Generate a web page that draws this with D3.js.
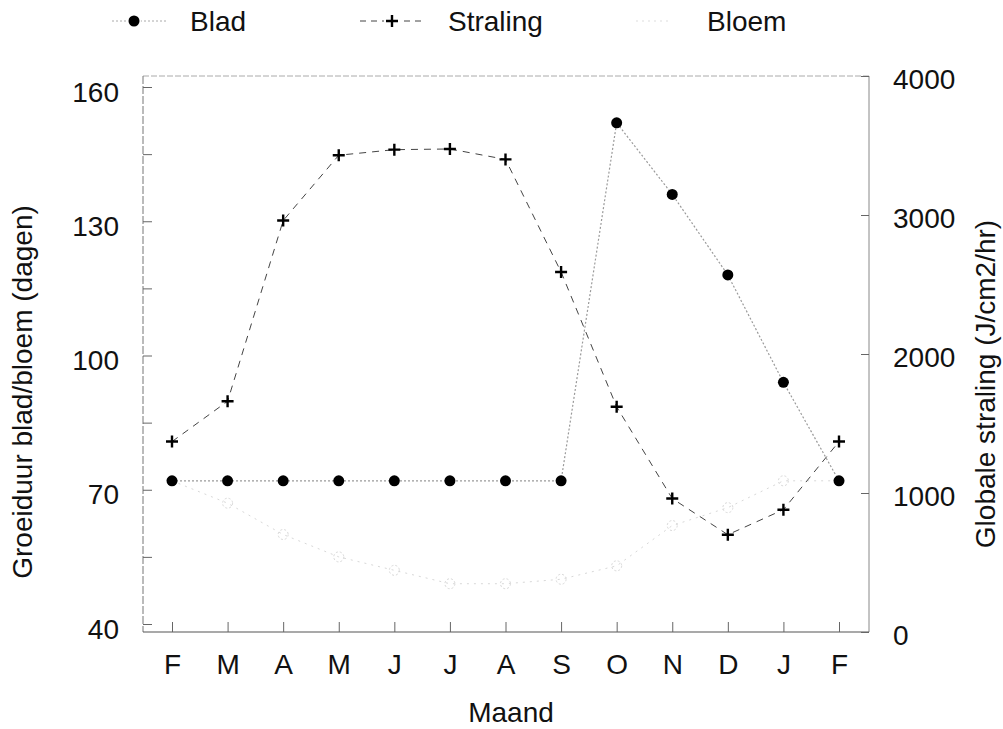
<!DOCTYPE html>
<html>
<head>
<meta charset="utf-8">
<script src="https://cdn.jsdelivr.net/npm/d3@7"></script>
<style>
  body { margin: 0; background: #fff; }
  svg text { font-family: "Liberation Sans", Arial, sans-serif; fill: #111; }
</style>
</head>
<body>
<div id="chart"></div>
<script>
// month labels, Feb to Feb
const months = ["F", "M", "A", "M", "J", "J", "A", "S", "O", "N", "D", "J", "F"];
// growth duration leaf (days)
const blad = [72, 72, 72, 72, 72, 72, 72, 72, 152, 136, 118, 94, 72];
// global radiation (J/cm2/hr)
const straling = [1370, 1660, 2960, 3430, 3470, 3475, 3400, 2590, 1620, 960, 700, 880, 1370];
// growth duration flower (days)
const bloem = [72, 67, 60, 55, 52, 49, 49, 50, 53, 62, 66, 72, 72];

const leftTicks = [40, 55, 70, 85, 100, 115, 130, 145, 160];
const rightTicks = [0, 1000, 2000, 3000, 4000];

const width = 1003, height = 729;
const plot = { left: 143, right: 869, top: 76, bottom: 632 };
const fontSize = 28;

let svg = d3.select("#chart")
    .append("svg")
    .attr("width", width)
    .attr("height", height);

// scales
let x = d3.scalePoint()
    .domain(d3.range(months.length))
    .range([172, 839]);

let yLeft = d3.scaleLinear()
    .domain([40, 160])
    .range([624, 87]);

let yRight = d3.scaleLinear()
    .domain([0, 4000])
    .range([632, 76]);

// frame
svg.append("line").attr("x1", plot.left).attr("x2", plot.right).attr("y1", plot.top).attr("y2", plot.top)
    .attr("stroke", "#aaa").attr("stroke-dasharray", "6,2");
svg.append("line").attr("x1", plot.right).attr("x2", plot.right).attr("y1", plot.top).attr("y2", plot.bottom)
    .attr("stroke", "#888");
svg.append("line").attr("x1", plot.left).attr("x2", plot.left).attr("y1", plot.top).attr("y2", plot.bottom)
    .attr("stroke", "#777").attr("stroke-dasharray", "8,2");
svg.append("line").attr("x1", plot.left).attr("x2", plot.right).attr("y1", plot.bottom).attr("y2", plot.bottom)
    .attr("stroke", "#555").attr("stroke-width", 1.2);

// x axis
let xAxis = svg.append("g")
    .attr("transform", `translate(0, ${plot.bottom})`)
    .call(d3.axisBottom(x).tickSize(-10).tickPadding(22).tickFormat(i => months[i]));
xAxis.select(".domain").remove();
xAxis.selectAll("line").attr("stroke", "#666");
xAxis.selectAll("text").style("font-size", fontSize + "px").attr("fill", "#111");

// left axis
let leftAxis = svg.append("g")
    .attr("transform", `translate(${plot.left}, 0)`)
    .call(d3.axisLeft(yLeft).tickValues(leftTicks).tickSize(-9).tickPadding(24)
        .tickFormat(d => (d - 40) % 30 === 0 ? d : ""));
leftAxis.select(".domain").remove();
leftAxis.selectAll("line").attr("stroke", "#666");
leftAxis.selectAll("text").style("font-size", fontSize + "px").attr("dy", "0.5em").attr("fill", "#111");

// right axis
let rightAxis = svg.append("g")
    .attr("transform", `translate(${plot.right}, 0)`)
    .call(d3.axisRight(yRight).tickValues(rightTicks).tickSize(-8).tickPadding(24).tickFormat(d3.format("d")));
rightAxis.select(".domain").remove();
rightAxis.selectAll("line").attr("stroke", "#666");
rightAxis.selectAll("text").style("font-size", fontSize + "px").attr("dy", "0.45em").attr("fill", "#111");

// axis titles
svg.append("text")
    .attr("transform", `translate(32, ${(plot.top + plot.bottom) / 2 + 38}) rotate(-90)`)
    .style("text-anchor", "middle")
    .style("font-size", fontSize + "px")
    .text("Groeiduur blad/bloem (dagen)");

svg.append("text")
    .attr("transform", `translate(995, ${(plot.top + plot.bottom) / 2 + 30}) rotate(-90)`)
    .style("text-anchor", "middle")
    .style("font-size", fontSize + "px")
    .text("Globale straling (J/cm2/hr)");

svg.append("text")
    .attr("x", (plot.left + plot.right) / 2 + 5)
    .attr("y", 722)
    .style("text-anchor", "middle")
    .style("font-size", fontSize + "px")
    .text("Maand");

// Bloem line (very faint in the original)
let bloemLine = d3.line().x((d, i) => x(i)).y(d => yLeft(d));
svg.append("path")
    .datum(bloem)
    .attr("d", bloemLine)
    .attr("fill", "none")
    .attr("stroke", "#d8d8d8")
    .attr("stroke-width", 1)
    .attr("stroke-dasharray", "2,5");
svg.selectAll(".bloem-dot")
    .data(bloem)
    .enter()
    .append("circle")
    .attr("class", "bloem-dot")
    .attr("cx", (d, i) => x(i))
    .attr("cy", d => yLeft(d))
    .attr("r", 5)
    .attr("fill", "none")
    .attr("stroke", "#d8d8d8")
    .attr("stroke-dasharray", "2,2");

// Straling line
let stralingLine = d3.line().x((d, i) => x(i)).y(d => yRight(d));
svg.append("path")
    .datum(straling)
    .attr("d", stralingLine)
    .attr("fill", "none")
    .attr("stroke", "#444")
    .attr("stroke-width", 1)
    .attr("stroke-dasharray", "7,6");
svg.selectAll(".plus")
    .data(straling)
    .enter()
    .append("path")
    .attr("class", "plus")
    .attr("transform", (d, i) => `translate(${x(i)}, ${yRight(d)})`)
    .attr("d", "M-6,0H6M0,-6V6")
    .attr("stroke", "#000")
    .attr("stroke-width", 2.4);

// Blad line
let bladLine = d3.line().x((d, i) => x(i)).y(d => yLeft(d));
svg.append("path")
    .datum(blad)
    .attr("d", bladLine)
    .attr("fill", "none")
    .attr("stroke", "#9a9a9a")
    .attr("stroke-width", 1.2)
    .attr("stroke-dasharray", "2,2");
svg.selectAll(".blad-dot")
    .data(blad)
    .enter()
    .append("circle")
    .attr("class", "blad-dot")
    .attr("cx", (d, i) => x(i))
    .attr("cy", d => yLeft(d))
    .attr("r", 5.5)
    .attr("fill", "#000");

// legend
let legend = svg.append("g");
legend.append("line").attr("x1", 112).attr("x2", 166).attr("y1", 21).attr("y2", 21)
    .attr("stroke", "#aaa").attr("stroke-dasharray", "2,2");
legend.append("circle").attr("cx", 134).attr("cy", 21).attr("r", 5.5).attr("fill", "#000")
    .attr("stroke", "#fff").attr("stroke-width", 3).attr("paint-order", "stroke");
legend.append("text").attr("x", 190).attr("y", 31).style("font-size", fontSize + "px").text("Blad");

legend.append("line").attr("x1", 360).attr("x2", 426).attr("y1", 21).attr("y2", 21)
    .attr("stroke", "#444").attr("stroke-dasharray", "6,5");
legend.append("rect").attr("x", 384).attr("y", 12).attr("width", 16).attr("height", 18).attr("fill", "#fff");
legend.append("path").attr("transform", "translate(392, 21)").attr("d", "M-6,0H6M0,-6V6")
    .attr("stroke", "#000").attr("stroke-width", 2.4);
legend.append("text").attr("x", 448).attr("y", 31).style("font-size", fontSize + "px").text("Straling");

legend.append("line").attr("x1", 636).attr("x2", 668).attr("y1", 21).attr("y2", 21)
    .attr("stroke", "#ddd").attr("stroke-dasharray", "2,4");
legend.append("text").attr("x", 707).attr("y", 31).style("font-size", fontSize + "px").text("Bloem");
</script>
</body>
</html>
